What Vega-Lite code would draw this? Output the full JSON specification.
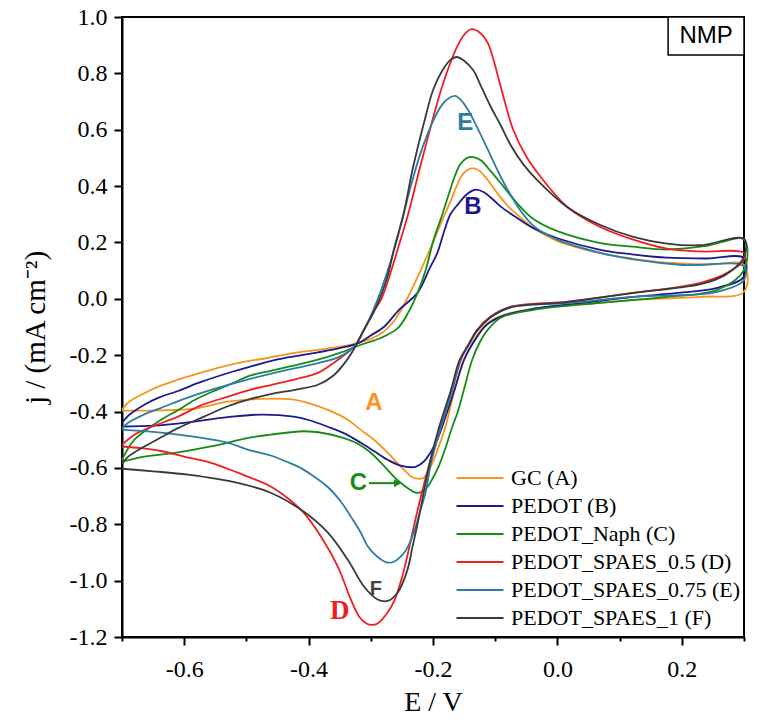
{
  "$schema": "https://vega.github.io/schema/vega-lite/v6.json",
  "width": 622,
  "height": 620,
  "autosize": "none",
  "padding": {"left": 122, "top": 17, "right": 14, "bottom": 87},
  "background": "white",
  "config": {
    "view": {"stroke": "black", "strokeWidth": 2},
    "font": "Liberation Serif"
  },
  "datasets": {
    "cv": [
      {"s":"GC (A)","o":1,"x":-0.700,"y":-0.394},{"s":"GC (A)","o":2,"x":-0.690,"y":-0.368},{"s":"GC (A)","o":3,"x":-0.664,"y":-0.335},{"s":"GC (A)","o":4,"x":-0.640,"y":-0.310},{"s":"GC (A)","o":5,"x":-0.610,"y":-0.287},{"s":"GC (A)","o":6,"x":-0.573,"y":-0.262},{"s":"GC (A)","o":7,"x":-0.541,"y":-0.242},{"s":"GC (A)","o":8,"x":-0.500,"y":-0.222},{"s":"GC (A)","o":9,"x":-0.466,"y":-0.210},{"s":"GC (A)","o":10,"x":-0.434,"y":-0.196},{"s":"GC (A)","o":11,"x":-0.385,"y":-0.181},{"s":"GC (A)","o":12,"x":-0.350,"y":-0.170},{"s":"GC (A)","o":13,"x":-0.321,"y":-0.157},{"s":"GC (A)","o":14,"x":-0.300,"y":-0.142},{"s":"GC (A)","o":15,"x":-0.280,"y":-0.118},{"s":"GC (A)","o":16,"x":-0.265,"y":-0.085},{"s":"GC (A)","o":17,"x":-0.250,"y":-0.035},{"s":"GC (A)","o":18,"x":-0.235,"y":0.030},{"s":"GC (A)","o":19,"x":-0.220,"y":0.100},{"s":"GC (A)","o":20,"x":-0.200,"y":0.200},{"s":"GC (A)","o":21,"x":-0.185,"y":0.280},{"s":"GC (A)","o":22,"x":-0.172,"y":0.345},{"s":"GC (A)","o":23,"x":-0.160,"y":0.410},{"s":"GC (A)","o":24,"x":-0.151,"y":0.445},{"s":"GC (A)","o":25,"x":-0.140,"y":0.462},{"s":"GC (A)","o":26,"x":-0.128,"y":0.458},{"s":"GC (A)","o":27,"x":-0.115,"y":0.430},{"s":"GC (A)","o":28,"x":-0.100,"y":0.385},{"s":"GC (A)","o":29,"x":-0.080,"y":0.330},{"s":"GC (A)","o":30,"x":-0.060,"y":0.290},{"s":"GC (A)","o":31,"x":-0.038,"y":0.250},{"s":"GC (A)","o":32,"x":0.000,"y":0.205},{"s":"GC (A)","o":33,"x":0.069,"y":0.162},{"s":"GC (A)","o":34,"x":0.120,"y":0.143},{"s":"GC (A)","o":35,"x":0.176,"y":0.128},{"s":"GC (A)","o":36,"x":0.240,"y":0.121},{"s":"GC (A)","o":37,"x":0.300,"y":0.120},
      {"s":"GC (A)","o":38,"x":0.300,"y":0.025},{"s":"GC (A)","o":39,"x":0.230,"y":0.007},{"s":"GC (A)","o":40,"x":0.122,"y":-0.004},{"s":"GC (A)","o":41,"x":0.040,"y":-0.020},{"s":"GC (A)","o":42,"x":-0.038,"y":-0.035},{"s":"GC (A)","o":43,"x":-0.090,"y":-0.060},{"s":"GC (A)","o":44,"x":-0.115,"y":-0.090},{"s":"GC (A)","o":45,"x":-0.135,"y":-0.150},{"s":"GC (A)","o":46,"x":-0.150,"y":-0.216},{"s":"GC (A)","o":47,"x":-0.165,"y":-0.320},{"s":"GC (A)","o":48,"x":-0.180,"y":-0.454},{"s":"GC (A)","o":49,"x":-0.195,"y":-0.550},{"s":"GC (A)","o":50,"x":-0.207,"y":-0.610},{"s":"GC (A)","o":51,"x":-0.215,"y":-0.635},{"s":"GC (A)","o":52,"x":-0.231,"y":-0.635},{"s":"GC (A)","o":53,"x":-0.247,"y":-0.606},{"s":"GC (A)","o":54,"x":-0.273,"y":-0.546},{"s":"GC (A)","o":55,"x":-0.295,"y":-0.500},{"s":"GC (A)","o":56,"x":-0.316,"y":-0.465},{"s":"GC (A)","o":57,"x":-0.340,"y":-0.425},{"s":"GC (A)","o":58,"x":-0.369,"y":-0.394},{"s":"GC (A)","o":59,"x":-0.400,"y":-0.370},{"s":"GC (A)","o":60,"x":-0.424,"y":-0.358},{"s":"GC (A)","o":61,"x":-0.477,"y":-0.355},{"s":"GC (A)","o":62,"x":-0.530,"y":-0.365},{"s":"GC (A)","o":63,"x":-0.584,"y":-0.390},{"s":"GC (A)","o":64,"x":-0.640,"y":-0.396},{"s":"GC (A)","o":65,"x":-0.700,"y":-0.397},

      {"s":"PEDOT (B)","o":1,"x":-0.700,"y":-0.441},{"s":"PEDOT (B)","o":2,"x":-0.690,"y":-0.415},{"s":"PEDOT (B)","o":3,"x":-0.664,"y":-0.376},{"s":"PEDOT (B)","o":4,"x":-0.640,"y":-0.350},{"s":"PEDOT (B)","o":5,"x":-0.610,"y":-0.327},{"s":"PEDOT (B)","o":6,"x":-0.573,"y":-0.295},{"s":"PEDOT (B)","o":7,"x":-0.520,"y":-0.257},{"s":"PEDOT (B)","o":8,"x":-0.493,"y":-0.240},{"s":"PEDOT (B)","o":9,"x":-0.450,"y":-0.215},{"s":"PEDOT (B)","o":10,"x":-0.385,"y":-0.190},{"s":"PEDOT (B)","o":11,"x":-0.350,"y":-0.175},{"s":"PEDOT (B)","o":12,"x":-0.321,"y":-0.158},{"s":"PEDOT (B)","o":13,"x":-0.300,"y":-0.130},{"s":"PEDOT (B)","o":14,"x":-0.279,"y":-0.100},{"s":"PEDOT (B)","o":15,"x":-0.255,"y":-0.040},{"s":"PEDOT (B)","o":16,"x":-0.225,"y":0.021},{"s":"PEDOT (B)","o":17,"x":-0.205,"y":0.110},{"s":"PEDOT (B)","o":18,"x":-0.193,"y":0.163},{"s":"PEDOT (B)","o":19,"x":-0.182,"y":0.240},{"s":"PEDOT (B)","o":20,"x":-0.172,"y":0.300},{"s":"PEDOT (B)","o":21,"x":-0.160,"y":0.335},{"s":"PEDOT (B)","o":22,"x":-0.145,"y":0.372},{"s":"PEDOT (B)","o":23,"x":-0.132,"y":0.387},{"s":"PEDOT (B)","o":24,"x":-0.118,"y":0.378},{"s":"PEDOT (B)","o":25,"x":-0.105,"y":0.355},{"s":"PEDOT (B)","o":26,"x":-0.091,"y":0.327},{"s":"PEDOT (B)","o":27,"x":-0.060,"y":0.280},{"s":"PEDOT (B)","o":28,"x":-0.038,"y":0.250},{"s":"PEDOT (B)","o":29,"x":0.000,"y":0.215},{"s":"PEDOT (B)","o":30,"x":0.069,"y":0.174},{"s":"PEDOT (B)","o":31,"x":0.120,"y":0.158},{"s":"PEDOT (B)","o":32,"x":0.176,"y":0.146},{"s":"PEDOT (B)","o":33,"x":0.240,"y":0.143},{"s":"PEDOT (B)","o":34,"x":0.300,"y":0.145},
      {"s":"PEDOT (B)","o":35,"x":0.300,"y":0.078},{"s":"PEDOT (B)","o":36,"x":0.257,"y":0.039},{"s":"PEDOT (B)","o":37,"x":0.190,"y":0.020},{"s":"PEDOT (B)","o":38,"x":0.122,"y":0.007},{"s":"PEDOT (B)","o":39,"x":0.040,"y":-0.015},{"s":"PEDOT (B)","o":40,"x":-0.038,"y":-0.035},{"s":"PEDOT (B)","o":41,"x":-0.090,"y":-0.062},{"s":"PEDOT (B)","o":42,"x":-0.115,"y":-0.095},{"s":"PEDOT (B)","o":43,"x":-0.135,"y":-0.155},{"s":"PEDOT (B)","o":44,"x":-0.150,"y":-0.216},{"s":"PEDOT (B)","o":45,"x":-0.165,"y":-0.320},{"s":"PEDOT (B)","o":46,"x":-0.180,"y":-0.420},{"s":"PEDOT (B)","o":47,"x":-0.193,"y":-0.500},{"s":"PEDOT (B)","o":48,"x":-0.204,"y":-0.545},{"s":"PEDOT (B)","o":49,"x":-0.215,"y":-0.578},{"s":"PEDOT (B)","o":50,"x":-0.228,"y":-0.596},{"s":"PEDOT (B)","o":51,"x":-0.252,"y":-0.592},{"s":"PEDOT (B)","o":52,"x":-0.273,"y":-0.571},{"s":"PEDOT (B)","o":53,"x":-0.295,"y":-0.540},{"s":"PEDOT (B)","o":54,"x":-0.316,"y":-0.511},{"s":"PEDOT (B)","o":55,"x":-0.340,"y":-0.480},{"s":"PEDOT (B)","o":56,"x":-0.369,"y":-0.454},{"s":"PEDOT (B)","o":57,"x":-0.400,"y":-0.430},{"s":"PEDOT (B)","o":58,"x":-0.424,"y":-0.418},{"s":"PEDOT (B)","o":59,"x":-0.477,"y":-0.411},{"s":"PEDOT (B)","o":60,"x":-0.530,"y":-0.420},{"s":"PEDOT (B)","o":61,"x":-0.600,"y":-0.440},{"s":"PEDOT (B)","o":62,"x":-0.650,"y":-0.450},{"s":"PEDOT (B)","o":63,"x":-0.700,"y":-0.453},

      {"s":"PEDOT_Naph (C)","o":1,"x":-0.700,"y":-0.571},{"s":"PEDOT_Naph (C)","o":2,"x":-0.690,"y":-0.530},{"s":"PEDOT_Naph (C)","o":3,"x":-0.680,"y":-0.500},{"s":"PEDOT_Naph (C)","o":4,"x":-0.664,"y":-0.470},{"s":"PEDOT_Naph (C)","o":5,"x":-0.637,"y":-0.429},{"s":"PEDOT_Naph (C)","o":6,"x":-0.610,"y":-0.395},{"s":"PEDOT_Naph (C)","o":7,"x":-0.584,"y":-0.360},{"s":"PEDOT_Naph (C)","o":8,"x":-0.550,"y":-0.325},{"s":"PEDOT_Naph (C)","o":9,"x":-0.520,"y":-0.297},{"s":"PEDOT_Naph (C)","o":10,"x":-0.493,"y":-0.272},{"s":"PEDOT_Naph (C)","o":11,"x":-0.466,"y":-0.258},{"s":"PEDOT_Naph (C)","o":12,"x":-0.430,"y":-0.240},{"s":"PEDOT_Naph (C)","o":13,"x":-0.385,"y":-0.216},{"s":"PEDOT_Naph (C)","o":14,"x":-0.350,"y":-0.192},{"s":"PEDOT_Naph (C)","o":15,"x":-0.316,"y":-0.163},{"s":"PEDOT_Naph (C)","o":16,"x":-0.285,"y":-0.140},{"s":"PEDOT_Naph (C)","o":17,"x":-0.257,"y":-0.105},{"s":"PEDOT_Naph (C)","o":18,"x":-0.240,"y":-0.050},{"s":"PEDOT_Naph (C)","o":19,"x":-0.225,"y":0.020},{"s":"PEDOT_Naph (C)","o":20,"x":-0.212,"y":0.100},{"s":"PEDOT_Naph (C)","o":21,"x":-0.199,"y":0.210},{"s":"PEDOT_Naph (C)","o":22,"x":-0.188,"y":0.280},{"s":"PEDOT_Naph (C)","o":23,"x":-0.177,"y":0.355},{"s":"PEDOT_Naph (C)","o":24,"x":-0.165,"y":0.435},{"s":"PEDOT_Naph (C)","o":25,"x":-0.156,"y":0.478},{"s":"PEDOT_Naph (C)","o":26,"x":-0.145,"y":0.500},{"s":"PEDOT_Naph (C)","o":27,"x":-0.135,"y":0.503},{"s":"PEDOT_Naph (C)","o":28,"x":-0.122,"y":0.490},{"s":"PEDOT_Naph (C)","o":29,"x":-0.110,"y":0.460},{"s":"PEDOT_Naph (C)","o":30,"x":-0.091,"y":0.410},{"s":"PEDOT_Naph (C)","o":31,"x":-0.065,"y":0.340},{"s":"PEDOT_Naph (C)","o":32,"x":-0.038,"y":0.282},{"s":"PEDOT_Naph (C)","o":33,"x":0.000,"y":0.240},{"s":"PEDOT_Naph (C)","o":34,"x":0.069,"y":0.198},{"s":"PEDOT_Naph (C)","o":35,"x":0.120,"y":0.185},{"s":"PEDOT_Naph (C)","o":36,"x":0.176,"y":0.175},{"s":"PEDOT_Naph (C)","o":37,"x":0.240,"y":0.188},{"s":"PEDOT_Naph (C)","o":38,"x":0.300,"y":0.210},
      {"s":"PEDOT_Naph (C)","o":39,"x":0.300,"y":0.103},{"s":"PEDOT_Naph (C)","o":40,"x":0.257,"y":0.032},{"s":"PEDOT_Naph (C)","o":41,"x":0.176,"y":0.007},{"s":"PEDOT_Naph (C)","o":42,"x":0.069,"y":-0.014},{"s":"PEDOT_Naph (C)","o":43,"x":-0.038,"y":-0.039},{"s":"PEDOT_Naph (C)","o":44,"x":-0.091,"y":-0.067},{"s":"PEDOT_Naph (C)","o":45,"x":-0.112,"y":-0.110},{"s":"PEDOT_Naph (C)","o":46,"x":-0.125,"y":-0.155},{"s":"PEDOT_Naph (C)","o":47,"x":-0.137,"y":-0.216},{"s":"PEDOT_Naph (C)","o":48,"x":-0.150,"y":-0.320},{"s":"PEDOT_Naph (C)","o":49,"x":-0.160,"y":-0.400},{"s":"PEDOT_Naph (C)","o":50,"x":-0.169,"y":-0.454},{"s":"PEDOT_Naph (C)","o":51,"x":-0.180,"y":-0.530},{"s":"PEDOT_Naph (C)","o":52,"x":-0.190,"y":-0.590},{"s":"PEDOT_Naph (C)","o":53,"x":-0.200,"y":-0.635},{"s":"PEDOT_Naph (C)","o":54,"x":-0.209,"y":-0.668},{"s":"PEDOT_Naph (C)","o":55,"x":-0.218,"y":-0.685},{"s":"PEDOT_Naph (C)","o":56,"x":-0.228,"y":-0.688},{"s":"PEDOT_Naph (C)","o":57,"x":-0.245,"y":-0.665},{"s":"PEDOT_Naph (C)","o":58,"x":-0.263,"y":-0.631},{"s":"PEDOT_Naph (C)","o":59,"x":-0.280,"y":-0.590},{"s":"PEDOT_Naph (C)","o":60,"x":-0.300,"y":-0.546},{"s":"PEDOT_Naph (C)","o":61,"x":-0.320,"y":-0.515},{"s":"PEDOT_Naph (C)","o":62,"x":-0.343,"y":-0.494},{"s":"PEDOT_Naph (C)","o":63,"x":-0.375,"y":-0.477},{"s":"PEDOT_Naph (C)","o":64,"x":-0.408,"y":-0.470},{"s":"PEDOT_Naph (C)","o":65,"x":-0.461,"y":-0.482},{"s":"PEDOT_Naph (C)","o":66,"x":-0.493,"y":-0.492},{"s":"PEDOT_Naph (C)","o":67,"x":-0.557,"y":-0.524},{"s":"PEDOT_Naph (C)","o":68,"x":-0.610,"y":-0.545},{"s":"PEDOT_Naph (C)","o":69,"x":-0.664,"y":-0.560},{"s":"PEDOT_Naph (C)","o":70,"x":-0.700,"y":-0.578},

      {"s":"PEDOT_SPAES_0.5 (D)","o":1,"x":-0.700,"y":-0.518},{"s":"PEDOT_SPAES_0.5 (D)","o":2,"x":-0.680,"y":-0.482},{"s":"PEDOT_SPAES_0.5 (D)","o":3,"x":-0.653,"y":-0.455},{"s":"PEDOT_SPAES_0.5 (D)","o":4,"x":-0.610,"y":-0.418},{"s":"PEDOT_SPAES_0.5 (D)","o":5,"x":-0.573,"y":-0.378},{"s":"PEDOT_SPAES_0.5 (D)","o":6,"x":-0.531,"y":-0.348},{"s":"PEDOT_SPAES_0.5 (D)","o":7,"x":-0.493,"y":-0.322},{"s":"PEDOT_SPAES_0.5 (D)","o":8,"x":-0.461,"y":-0.306},{"s":"PEDOT_SPAES_0.5 (D)","o":9,"x":-0.420,"y":-0.285},{"s":"PEDOT_SPAES_0.5 (D)","o":10,"x":-0.385,"y":-0.263},{"s":"PEDOT_SPAES_0.5 (D)","o":11,"x":-0.360,"y":-0.228},{"s":"PEDOT_SPAES_0.5 (D)","o":12,"x":-0.340,"y":-0.195},{"s":"PEDOT_SPAES_0.5 (D)","o":13,"x":-0.327,"y":-0.170},{"s":"PEDOT_SPAES_0.5 (D)","o":14,"x":-0.311,"y":-0.110},{"s":"PEDOT_SPAES_0.5 (D)","o":15,"x":-0.295,"y":-0.045},{"s":"PEDOT_SPAES_0.5 (D)","o":16,"x":-0.283,"y":0.000},{"s":"PEDOT_SPAES_0.5 (D)","o":17,"x":-0.270,"y":0.080},{"s":"PEDOT_SPAES_0.5 (D)","o":18,"x":-0.257,"y":0.174},{"s":"PEDOT_SPAES_0.5 (D)","o":19,"x":-0.240,"y":0.300},{"s":"PEDOT_SPAES_0.5 (D)","o":20,"x":-0.222,"y":0.457},{"s":"PEDOT_SPAES_0.5 (D)","o":21,"x":-0.205,"y":0.600},{"s":"PEDOT_SPAES_0.5 (D)","o":22,"x":-0.190,"y":0.720},{"s":"PEDOT_SPAES_0.5 (D)","o":23,"x":-0.175,"y":0.820},{"s":"PEDOT_SPAES_0.5 (D)","o":24,"x":-0.160,"y":0.900},{"s":"PEDOT_SPAES_0.5 (D)","o":25,"x":-0.148,"y":0.942},{"s":"PEDOT_SPAES_0.5 (D)","o":26,"x":-0.138,"y":0.957},{"s":"PEDOT_SPAES_0.5 (D)","o":27,"x":-0.125,"y":0.945},{"s":"PEDOT_SPAES_0.5 (D)","o":28,"x":-0.112,"y":0.908},{"s":"PEDOT_SPAES_0.5 (D)","o":29,"x":-0.103,"y":0.850},{"s":"PEDOT_SPAES_0.5 (D)","o":30,"x":-0.091,"y":0.752},{"s":"PEDOT_SPAES_0.5 (D)","o":31,"x":-0.071,"y":0.600},{"s":"PEDOT_SPAES_0.5 (D)","o":32,"x":-0.050,"y":0.505},{"s":"PEDOT_SPAES_0.5 (D)","o":33,"x":-0.027,"y":0.433},{"s":"PEDOT_SPAES_0.5 (D)","o":34,"x":0.016,"y":0.326},{"s":"PEDOT_SPAES_0.5 (D)","o":35,"x":0.069,"y":0.255},{"s":"PEDOT_SPAES_0.5 (D)","o":36,"x":0.122,"y":0.210},{"s":"PEDOT_SPAES_0.5 (D)","o":37,"x":0.176,"y":0.178},{"s":"PEDOT_SPAES_0.5 (D)","o":38,"x":0.230,"y":0.168},{"s":"PEDOT_SPAES_0.5 (D)","o":39,"x":0.300,"y":0.163},
      {"s":"PEDOT_SPAES_0.5 (D)","o":40,"x":0.300,"y":0.138},{"s":"PEDOT_SPAES_0.5 (D)","o":41,"x":0.273,"y":0.092},{"s":"PEDOT_SPAES_0.5 (D)","o":42,"x":0.230,"y":0.057},{"s":"PEDOT_SPAES_0.5 (D)","o":43,"x":0.122,"y":0.021},{"s":"PEDOT_SPAES_0.5 (D)","o":44,"x":0.016,"y":-0.010},{"s":"PEDOT_SPAES_0.5 (D)","o":45,"x":-0.075,"y":-0.028},{"s":"PEDOT_SPAES_0.5 (D)","o":46,"x":-0.108,"y":-0.064},{"s":"PEDOT_SPAES_0.5 (D)","o":47,"x":-0.129,"y":-0.110},{"s":"PEDOT_SPAES_0.5 (D)","o":48,"x":-0.140,"y":-0.150},{"s":"PEDOT_SPAES_0.5 (D)","o":49,"x":-0.155,"y":-0.216},{"s":"PEDOT_SPAES_0.5 (D)","o":50,"x":-0.170,"y":-0.330},{"s":"PEDOT_SPAES_0.5 (D)","o":51,"x":-0.188,"y":-0.454},{"s":"PEDOT_SPAES_0.5 (D)","o":52,"x":-0.205,"y":-0.580},{"s":"PEDOT_SPAES_0.5 (D)","o":53,"x":-0.218,"y":-0.688},{"s":"PEDOT_SPAES_0.5 (D)","o":54,"x":-0.230,"y":-0.800},{"s":"PEDOT_SPAES_0.5 (D)","o":55,"x":-0.240,"y":-0.900},{"s":"PEDOT_SPAES_0.5 (D)","o":56,"x":-0.250,"y":-0.990},{"s":"PEDOT_SPAES_0.5 (D)","o":57,"x":-0.262,"y":-1.070},{"s":"PEDOT_SPAES_0.5 (D)","o":58,"x":-0.273,"y":-1.113},{"s":"PEDOT_SPAES_0.5 (D)","o":59,"x":-0.289,"y":-1.152},{"s":"PEDOT_SPAES_0.5 (D)","o":60,"x":-0.298,"y":-1.157},{"s":"PEDOT_SPAES_0.5 (D)","o":61,"x":-0.307,"y":-1.152},{"s":"PEDOT_SPAES_0.5 (D)","o":62,"x":-0.318,"y":-1.130},{"s":"PEDOT_SPAES_0.5 (D)","o":63,"x":-0.332,"y":-1.067},{"s":"PEDOT_SPAES_0.5 (D)","o":64,"x":-0.353,"y":-0.950},{"s":"PEDOT_SPAES_0.5 (D)","o":65,"x":-0.380,"y":-0.844},{"s":"PEDOT_SPAES_0.5 (D)","o":66,"x":-0.408,"y":-0.759},{"s":"PEDOT_SPAES_0.5 (D)","o":67,"x":-0.435,"y":-0.705},{"s":"PEDOT_SPAES_0.5 (D)","o":68,"x":-0.461,"y":-0.666},{"s":"PEDOT_SPAES_0.5 (D)","o":69,"x":-0.514,"y":-0.617},{"s":"PEDOT_SPAES_0.5 (D)","o":70,"x":-0.557,"y":-0.582},{"s":"PEDOT_SPAES_0.5 (D)","o":71,"x":-0.600,"y":-0.560},{"s":"PEDOT_SPAES_0.5 (D)","o":72,"x":-0.637,"y":-0.540},{"s":"PEDOT_SPAES_0.5 (D)","o":73,"x":-0.669,"y":-0.530},{"s":"PEDOT_SPAES_0.5 (D)","o":74,"x":-0.700,"y":-0.524},

      {"s":"PEDOT_SPAES_0.75 (E)","o":1,"x":-0.700,"y":-0.459},{"s":"PEDOT_SPAES_0.75 (E)","o":2,"x":-0.690,"y":-0.440},{"s":"PEDOT_SPAES_0.75 (E)","o":3,"x":-0.664,"y":-0.410},{"s":"PEDOT_SPAES_0.75 (E)","o":4,"x":-0.637,"y":-0.387},{"s":"PEDOT_SPAES_0.75 (E)","o":5,"x":-0.600,"y":-0.355},{"s":"PEDOT_SPAES_0.75 (E)","o":6,"x":-0.557,"y":-0.323},{"s":"PEDOT_SPAES_0.75 (E)","o":7,"x":-0.504,"y":-0.290},{"s":"PEDOT_SPAES_0.75 (E)","o":8,"x":-0.450,"y":-0.260},{"s":"PEDOT_SPAES_0.75 (E)","o":9,"x":-0.385,"y":-0.228},{"s":"PEDOT_SPAES_0.75 (E)","o":10,"x":-0.350,"y":-0.205},{"s":"PEDOT_SPAES_0.75 (E)","o":11,"x":-0.325,"y":-0.165},{"s":"PEDOT_SPAES_0.75 (E)","o":12,"x":-0.311,"y":-0.110},{"s":"PEDOT_SPAES_0.75 (E)","o":13,"x":-0.296,"y":-0.040},{"s":"PEDOT_SPAES_0.75 (E)","o":14,"x":-0.282,"y":0.040},{"s":"PEDOT_SPAES_0.75 (E)","o":15,"x":-0.267,"y":0.140},{"s":"PEDOT_SPAES_0.75 (E)","o":16,"x":-0.253,"y":0.250},{"s":"PEDOT_SPAES_0.75 (E)","o":17,"x":-0.236,"y":0.397},{"s":"PEDOT_SPAES_0.75 (E)","o":18,"x":-0.220,"y":0.517},{"s":"PEDOT_SPAES_0.75 (E)","o":19,"x":-0.199,"y":0.635},{"s":"PEDOT_SPAES_0.75 (E)","o":20,"x":-0.185,"y":0.690},{"s":"PEDOT_SPAES_0.75 (E)","o":21,"x":-0.172,"y":0.715},{"s":"PEDOT_SPAES_0.75 (E)","o":22,"x":-0.164,"y":0.720},{"s":"PEDOT_SPAES_0.75 (E)","o":23,"x":-0.155,"y":0.705},{"s":"PEDOT_SPAES_0.75 (E)","o":24,"x":-0.145,"y":0.675},{"s":"PEDOT_SPAES_0.75 (E)","o":25,"x":-0.135,"y":0.635},{"s":"PEDOT_SPAES_0.75 (E)","o":26,"x":-0.112,"y":0.530},{"s":"PEDOT_SPAES_0.75 (E)","o":27,"x":-0.095,"y":0.450},{"s":"PEDOT_SPAES_0.75 (E)","o":28,"x":-0.080,"y":0.387},{"s":"PEDOT_SPAES_0.75 (E)","o":29,"x":-0.060,"y":0.315},{"s":"PEDOT_SPAES_0.75 (E)","o":30,"x":-0.038,"y":0.258},{"s":"PEDOT_SPAES_0.75 (E)","o":31,"x":0.000,"y":0.210},{"s":"PEDOT_SPAES_0.75 (E)","o":32,"x":0.069,"y":0.163},{"s":"PEDOT_SPAES_0.75 (E)","o":33,"x":0.122,"y":0.140},{"s":"PEDOT_SPAES_0.75 (E)","o":34,"x":0.202,"y":0.120},{"s":"PEDOT_SPAES_0.75 (E)","o":35,"x":0.300,"y":0.115},
      {"s":"PEDOT_SPAES_0.75 (E)","o":36,"x":0.300,"y":0.067},{"s":"PEDOT_SPAES_0.75 (E)","o":37,"x":0.257,"y":0.025},{"s":"PEDOT_SPAES_0.75 (E)","o":38,"x":0.122,"y":0.007},{"s":"PEDOT_SPAES_0.75 (E)","o":39,"x":0.016,"y":-0.015},{"s":"PEDOT_SPAES_0.75 (E)","o":40,"x":-0.075,"y":-0.030},{"s":"PEDOT_SPAES_0.75 (E)","o":41,"x":-0.108,"y":-0.066},{"s":"PEDOT_SPAES_0.75 (E)","o":42,"x":-0.129,"y":-0.112},{"s":"PEDOT_SPAES_0.75 (E)","o":43,"x":-0.143,"y":-0.165},{"s":"PEDOT_SPAES_0.75 (E)","o":44,"x":-0.156,"y":-0.216},{"s":"PEDOT_SPAES_0.75 (E)","o":45,"x":-0.170,"y":-0.330},{"s":"PEDOT_SPAES_0.75 (E)","o":46,"x":-0.187,"y":-0.454},{"s":"PEDOT_SPAES_0.75 (E)","o":47,"x":-0.203,"y":-0.580},{"s":"PEDOT_SPAES_0.75 (E)","o":48,"x":-0.212,"y":-0.688},{"s":"PEDOT_SPAES_0.75 (E)","o":49,"x":-0.220,"y":-0.748},{"s":"PEDOT_SPAES_0.75 (E)","o":50,"x":-0.231,"y":-0.830},{"s":"PEDOT_SPAES_0.75 (E)","o":51,"x":-0.243,"y":-0.890},{"s":"PEDOT_SPAES_0.75 (E)","o":52,"x":-0.252,"y":-0.915},{"s":"PEDOT_SPAES_0.75 (E)","o":53,"x":-0.262,"y":-0.932},{"s":"PEDOT_SPAES_0.75 (E)","o":54,"x":-0.273,"y":-0.936},{"s":"PEDOT_SPAES_0.75 (E)","o":55,"x":-0.288,"y":-0.918},{"s":"PEDOT_SPAES_0.75 (E)","o":56,"x":-0.305,"y":-0.878},{"s":"PEDOT_SPAES_0.75 (E)","o":57,"x":-0.316,"y":-0.830},{"s":"PEDOT_SPAES_0.75 (E)","o":58,"x":-0.330,"y":-0.780},{"s":"PEDOT_SPAES_0.75 (E)","o":59,"x":-0.348,"y":-0.720},{"s":"PEDOT_SPAES_0.75 (E)","o":60,"x":-0.370,"y":-0.666},{"s":"PEDOT_SPAES_0.75 (E)","o":61,"x":-0.395,"y":-0.625},{"s":"PEDOT_SPAES_0.75 (E)","o":62,"x":-0.413,"y":-0.600},{"s":"PEDOT_SPAES_0.75 (E)","o":63,"x":-0.433,"y":-0.580},{"s":"PEDOT_SPAES_0.75 (E)","o":64,"x":-0.461,"y":-0.556},{"s":"PEDOT_SPAES_0.75 (E)","o":65,"x":-0.498,"y":-0.535},{"s":"PEDOT_SPAES_0.75 (E)","o":66,"x":-0.531,"y":-0.510},{"s":"PEDOT_SPAES_0.75 (E)","o":67,"x":-0.610,"y":-0.482},{"s":"PEDOT_SPAES_0.75 (E)","o":68,"x":-0.650,"y":-0.472},{"s":"PEDOT_SPAES_0.75 (E)","o":69,"x":-0.700,"y":-0.464},

      {"s":"PEDOT_SPAES_1 (F)","o":1,"x":-0.700,"y":-0.585},{"s":"PEDOT_SPAES_1 (F)","o":2,"x":-0.690,"y":-0.560},{"s":"PEDOT_SPAES_1 (F)","o":3,"x":-0.664,"y":-0.524},{"s":"PEDOT_SPAES_1 (F)","o":4,"x":-0.640,"y":-0.495},{"s":"PEDOT_SPAES_1 (F)","o":5,"x":-0.610,"y":-0.459},{"s":"PEDOT_SPAES_1 (F)","o":6,"x":-0.570,"y":-0.420},{"s":"PEDOT_SPAES_1 (F)","o":7,"x":-0.531,"y":-0.382},{"s":"PEDOT_SPAES_1 (F)","o":8,"x":-0.493,"y":-0.355},{"s":"PEDOT_SPAES_1 (F)","o":9,"x":-0.461,"y":-0.338},{"s":"PEDOT_SPAES_1 (F)","o":10,"x":-0.420,"y":-0.322},{"s":"PEDOT_SPAES_1 (F)","o":11,"x":-0.385,"y":-0.305},{"s":"PEDOT_SPAES_1 (F)","o":12,"x":-0.360,"y":-0.272},{"s":"PEDOT_SPAES_1 (F)","o":13,"x":-0.340,"y":-0.222},{"s":"PEDOT_SPAES_1 (F)","o":14,"x":-0.325,"y":-0.170},{"s":"PEDOT_SPAES_1 (F)","o":15,"x":-0.311,"y":-0.110},{"s":"PEDOT_SPAES_1 (F)","o":16,"x":-0.296,"y":-0.050},{"s":"PEDOT_SPAES_1 (F)","o":17,"x":-0.284,"y":0.010},{"s":"PEDOT_SPAES_1 (F)","o":18,"x":-0.273,"y":0.080},{"s":"PEDOT_SPAES_1 (F)","o":19,"x":-0.263,"y":0.174},{"s":"PEDOT_SPAES_1 (F)","o":20,"x":-0.247,"y":0.305},{"s":"PEDOT_SPAES_1 (F)","o":21,"x":-0.233,"y":0.457},{"s":"PEDOT_SPAES_1 (F)","o":22,"x":-0.215,"y":0.620},{"s":"PEDOT_SPAES_1 (F)","o":23,"x":-0.200,"y":0.740},{"s":"PEDOT_SPAES_1 (F)","o":24,"x":-0.185,"y":0.810},{"s":"PEDOT_SPAES_1 (F)","o":25,"x":-0.172,"y":0.848},{"s":"PEDOT_SPAES_1 (F)","o":26,"x":-0.162,"y":0.858},{"s":"PEDOT_SPAES_1 (F)","o":27,"x":-0.150,"y":0.845},{"s":"PEDOT_SPAES_1 (F)","o":28,"x":-0.135,"y":0.810},{"s":"PEDOT_SPAES_1 (F)","o":29,"x":-0.124,"y":0.760},{"s":"PEDOT_SPAES_1 (F)","o":30,"x":-0.108,"y":0.685},{"s":"PEDOT_SPAES_1 (F)","o":31,"x":-0.091,"y":0.615},{"s":"PEDOT_SPAES_1 (F)","o":32,"x":-0.075,"y":0.545},{"s":"PEDOT_SPAES_1 (F)","o":33,"x":-0.055,"y":0.478},{"s":"PEDOT_SPAES_1 (F)","o":34,"x":-0.032,"y":0.420},{"s":"PEDOT_SPAES_1 (F)","o":35,"x":0.016,"y":0.325},{"s":"PEDOT_SPAES_1 (F)","o":36,"x":0.069,"y":0.262},{"s":"PEDOT_SPAES_1 (F)","o":37,"x":0.122,"y":0.220},{"s":"PEDOT_SPAES_1 (F)","o":38,"x":0.176,"y":0.196},{"s":"PEDOT_SPAES_1 (F)","o":39,"x":0.230,"y":0.190},{"s":"PEDOT_SPAES_1 (F)","o":40,"x":0.300,"y":0.213},
      {"s":"PEDOT_SPAES_1 (F)","o":41,"x":0.300,"y":0.149},{"s":"PEDOT_SPAES_1 (F)","o":42,"x":0.270,"y":0.085},{"s":"PEDOT_SPAES_1 (F)","o":43,"x":0.230,"y":0.052},{"s":"PEDOT_SPAES_1 (F)","o":44,"x":0.122,"y":0.021},{"s":"PEDOT_SPAES_1 (F)","o":45,"x":0.016,"y":-0.012},{"s":"PEDOT_SPAES_1 (F)","o":46,"x":-0.075,"y":-0.030},{"s":"PEDOT_SPAES_1 (F)","o":47,"x":-0.108,"y":-0.066},{"s":"PEDOT_SPAES_1 (F)","o":48,"x":-0.129,"y":-0.112},{"s":"PEDOT_SPAES_1 (F)","o":49,"x":-0.142,"y":-0.160},{"s":"PEDOT_SPAES_1 (F)","o":50,"x":-0.157,"y":-0.216},{"s":"PEDOT_SPAES_1 (F)","o":51,"x":-0.172,"y":-0.330},{"s":"PEDOT_SPAES_1 (F)","o":52,"x":-0.190,"y":-0.454},{"s":"PEDOT_SPAES_1 (F)","o":53,"x":-0.205,"y":-0.580},{"s":"PEDOT_SPAES_1 (F)","o":54,"x":-0.215,"y":-0.688},{"s":"PEDOT_SPAES_1 (F)","o":55,"x":-0.225,"y":-0.800},{"s":"PEDOT_SPAES_1 (F)","o":56,"x":-0.233,"y":-0.880},{"s":"PEDOT_SPAES_1 (F)","o":57,"x":-0.241,"y":-0.961},{"s":"PEDOT_SPAES_1 (F)","o":58,"x":-0.257,"y":-1.043},{"s":"PEDOT_SPAES_1 (F)","o":59,"x":-0.273,"y":-1.072},{"s":"PEDOT_SPAES_1 (F)","o":60,"x":-0.289,"y":-1.067},{"s":"PEDOT_SPAES_1 (F)","o":61,"x":-0.311,"y":-1.021},{"s":"PEDOT_SPAES_1 (F)","o":62,"x":-0.337,"y":-0.926},{"s":"PEDOT_SPAES_1 (F)","o":63,"x":-0.369,"y":-0.830},{"s":"PEDOT_SPAES_1 (F)","o":64,"x":-0.408,"y":-0.755},{"s":"PEDOT_SPAES_1 (F)","o":65,"x":-0.461,"y":-0.688},{"s":"PEDOT_SPAES_1 (F)","o":66,"x":-0.514,"y":-0.653},{"s":"PEDOT_SPAES_1 (F)","o":67,"x":-0.594,"y":-0.624},{"s":"PEDOT_SPAES_1 (F)","o":68,"x":-0.650,"y":-0.612},{"s":"PEDOT_SPAES_1 (F)","o":69,"x":-0.700,"y":-0.603}
    ],
    "labels": [
      {"t":"A","x":-0.295,"y":-0.369},
      {"t":"B","x":-0.136,"y":0.326},
      {"t":"C","x":-0.320,"y":-0.654},
      {"t":"D","x":-0.350,"y":-1.106},
      {"t":"E","x":-0.148,"y":0.624},
      {"t":"F","x":-0.292,"y":-1.030}
    ],
    "arrow": [{"x":-0.303,"x2":-0.257,"y":-0.654}],
    "box": [{"t":"NMP","x":0.178,"x2":0.3,"y":0.865,"y2":1.0,"tx":0.239,"ty":0.933}]
  },
  "layer": [
    {
      "data": {"name": "cv"},
      "mark": {"type": "line", "strokeWidth": 1.8, "interpolate": "catmull-rom"},
      "encoding": {
        "x": {
          "field": "x", "type": "quantitative",
          "scale": {"domain": [-0.7, 0.3], "nice": false, "zero": false},
          "axis": {
            "title": "E / V",
            "values": [-0.7,-0.6,-0.5,-0.4,-0.3,-0.2,-0.1,0,0.1,0.2,0.3],
            "labelExpr": "abs(round(datum.value*10))%2===0 ? replace(format(datum.value,'.1f'),'\u2212','-') : ''",
            "tickSize": {"condition": {"test": "abs(round(datum.value*10))%2===0", "value": 8}, "value": 4},
            "tickWidth": 2, "tickColor": "black",
            "domainColor": "black", "domainWidth": 2,
            "grid": false, "labelOverlap": false, "labelFlush": false, "labelBound": false,
            "labelFont": "Liberation Serif", "labelFontSize": 24, "labelColor": "black", "labelPadding": 12,
            "titleFont": "Liberation Serif", "titleFontSize": 28, "titleFontWeight": "normal", "titleColor": "black", "titlePadding": 7
          }
        },
        "y": {
          "field": "y", "type": "quantitative",
          "scale": {"domain": [-1.2, 1.0], "nice": false, "zero": false},
          "axis": {
            "title": "j / (mA cm\u207B\u00B2)",
            "values": [-1.2,-1.1,-1.0,-0.9,-0.8,-0.7,-0.6,-0.5,-0.4,-0.3,-0.2,-0.1,0,0.1,0.2,0.3,0.4,0.5,0.6,0.7,0.8,0.9,1.0],
            "labelExpr": "abs(round(datum.value*10))%2===0 ? replace(format(datum.value,'.1f'),'\u2212','-') : ''",
            "tickSize": {"condition": {"test": "abs(round(datum.value*10))%2===0", "value": 8}, "value": 4},
            "tickWidth": 2, "tickColor": "black",
            "domainColor": "black", "domainWidth": 2,
            "grid": false, "labelOverlap": false, "labelFlush": false, "labelBound": false,
            "labelFont": "Liberation Serif", "labelFontSize": 24, "labelColor": "black", "labelPadding": 7,
            "titleFont": "Liberation Serif", "titleFontSize": 29, "titleFontWeight": "normal", "titleColor": "black", "titlePadding": 19
          }
        },
        "order": {"field": "o", "type": "quantitative"},
        "color": {
          "field": "s", "type": "nominal",
          "scale": {
            "domain": ["GC (A)", "PEDOT (B)", "PEDOT_Naph (C)", "PEDOT_SPAES_0.5 (D)", "PEDOT_SPAES_0.75 (E)", "PEDOT_SPAES_1 (F)"],
            "range": ["#F7941D", "#1B1B8F", "#168C16", "#F01E23", "#2B7DA3", "#3A3A3A"]
          },
          "legend": {
            "title": null, "orient": "none", "legendX": 347, "legendY": 450,
            "symbolType": "M-4.7,0H4.7", "symbolSize": 100, "symbolStrokeWidth": 2,
            "labelFont": "Liberation Serif", "labelFontSize": 22, "labelColor": "black",
            "labelOffset": 20, "rowPadding": 6, "padding": 0, "labelLimit": 400
          }
        }
      }
    },
    {
      "data": {"name": "arrow"},
      "mark": {"type": "rule", "color": "#168C16", "strokeWidth": 2},
      "encoding": {
        "x": {"field": "x", "type": "quantitative"},
        "x2": {"field": "x2"},
        "y": {"field": "y", "type": "quantitative"}
      }
    },
    {
      "data": {"name": "arrow"},
      "mark": {"type": "point", "shape": "triangle-right", "filled": true, "color": "#168C16", "size": 70, "opacity": 1},
      "encoding": {
        "x": {"field": "x2", "type": "quantitative"},
        "y": {"field": "y", "type": "quantitative"}
      }
    },
    {
      "data": {"name": "labels"},
      "transform": [{"filter": "datum.t==='A'"}],
      "mark": {"type": "text", "font": "Liberation Sans", "fontWeight": "bold", "fontSize": 24, "color": "#F7941D", "baseline": "middle", "align": "center"},
      "encoding": {"x": {"field": "x", "type": "quantitative"}, "y": {"field": "y", "type": "quantitative"}, "text": {"field": "t"}}
    },
    {
      "data": {"name": "labels"},
      "transform": [{"filter": "datum.t==='B'"}],
      "mark": {"type": "text", "font": "Liberation Sans", "fontWeight": "bold", "fontSize": 24, "color": "#1B1B8F", "baseline": "middle", "align": "center"},
      "encoding": {"x": {"field": "x", "type": "quantitative"}, "y": {"field": "y", "type": "quantitative"}, "text": {"field": "t"}}
    },
    {
      "data": {"name": "labels"},
      "transform": [{"filter": "datum.t==='C'"}],
      "mark": {"type": "text", "font": "Liberation Sans", "fontWeight": "bold", "fontSize": 24, "color": "#168C16", "baseline": "middle", "align": "center"},
      "encoding": {"x": {"field": "x", "type": "quantitative"}, "y": {"field": "y", "type": "quantitative"}, "text": {"field": "t"}}
    },
    {
      "data": {"name": "labels"},
      "transform": [{"filter": "datum.t==='D'"}],
      "mark": {"type": "text", "font": "Liberation Serif", "fontWeight": "bold", "fontSize": 27, "color": "#F01E23", "baseline": "middle", "align": "center"},
      "encoding": {"x": {"field": "x", "type": "quantitative"}, "y": {"field": "y", "type": "quantitative"}, "text": {"field": "t"}}
    },
    {
      "data": {"name": "labels"},
      "transform": [{"filter": "datum.t==='E'"}],
      "mark": {"type": "text", "font": "Liberation Sans", "fontWeight": "bold", "fontSize": 24, "color": "#2B7DA3", "baseline": "middle", "align": "center"},
      "encoding": {"x": {"field": "x", "type": "quantitative"}, "y": {"field": "y", "type": "quantitative"}, "text": {"field": "t"}}
    },
    {
      "data": {"name": "labels"},
      "transform": [{"filter": "datum.t==='F'"}],
      "mark": {"type": "text", "font": "Liberation Sans", "fontWeight": "bold", "fontSize": 20, "color": "#444444", "baseline": "middle", "align": "center"},
      "encoding": {"x": {"field": "x", "type": "quantitative"}, "y": {"field": "y", "type": "quantitative"}, "text": {"field": "t"}}
    },
    {
      "data": {"name": "box"},
      "mark": {"type": "rect", "fill": "white", "stroke": "black", "strokeWidth": 1.5},
      "encoding": {
        "x": {"field": "x", "type": "quantitative"}, "x2": {"field": "x2"},
        "y": {"field": "y", "type": "quantitative"}, "y2": {"field": "y2"}
      }
    },
    {
      "data": {"name": "box"},
      "mark": {"type": "text", "font": "Liberation Sans", "fontSize": 24, "color": "black", "baseline": "middle", "align": "center"},
      "encoding": {
        "x": {"field": "tx", "type": "quantitative"},
        "y": {"field": "ty", "type": "quantitative"},
        "text": {"field": "t"}
      }
    }
  ]
}
